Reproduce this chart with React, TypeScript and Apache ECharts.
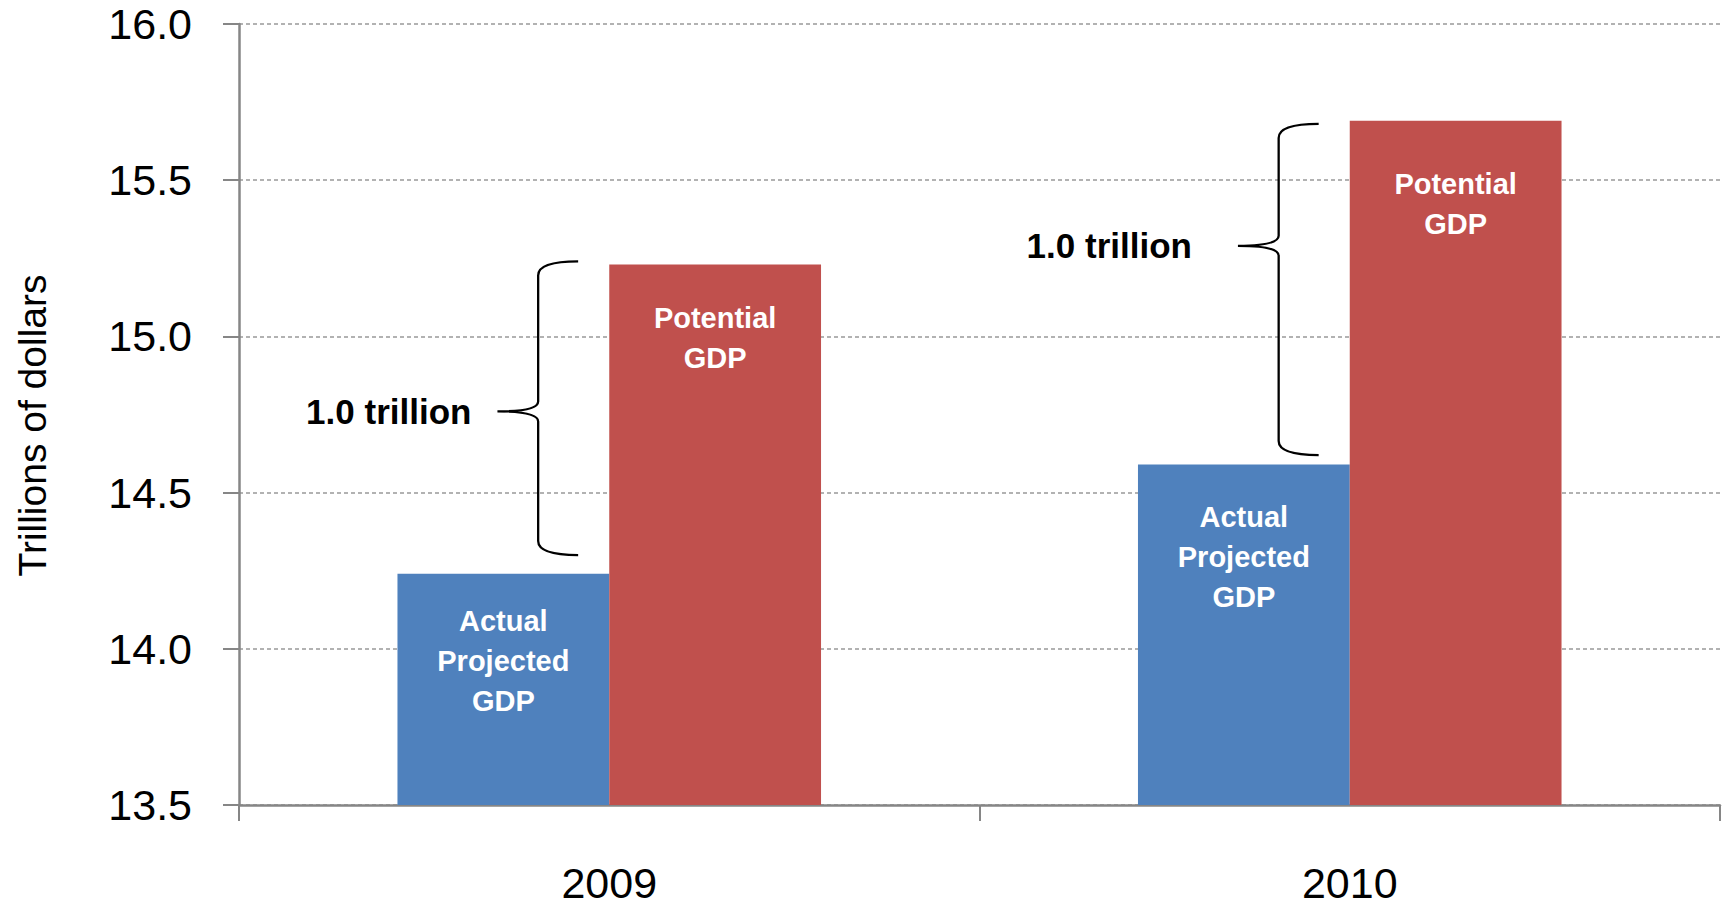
import React, { useEffect, useRef } from "react";
import * as echarts from "echarts";

const categories = ["2009", "2010"];
const actualGDP = [14.24, 14.59];
const potentialGDP = [15.23, 15.69];
const actualLabel = "Actual\nProjected\nGDP";
const potentialLabel = "Potential\nGDP";
const yTicksMin = 13.5;
const yTicksMax = 16.0;
const yTickStep = 0.5;
// brace annotation extents (data units)
const braceLow = [14.3, 14.62];
const braceHigh = [15.24, 15.68];
const braceTip = [14.76, 15.29];
const braceLabels = ["1.0 trillion", "1.0 trillion"];

// layout / style tweaks (pixels), kept apart from the data
const actualLabelDist = [27, 33];
const potentialLabelDist = [33, 43];
const braceLabelGap = [26, 46];

const FONT = "'Liberation Sans', Arial, sans-serif";

export default function App() {
  const ref = useRef<HTMLDivElement>(null);
  useEffect(() => {
    if (!ref.current) return;
    const chart = echarts.init(ref.current, undefined, { renderer: "svg" });
    const braceData = categories.map((_, i) => [i, braceLow[i], braceHigh[i], braceTip[i]]);
    const axisColor = "#868686";
    const labelBase = {
      show: true,
      position: "insideTop",
      color: "#ffffff",
      fontWeight: "bold",
      fontSize: 29,
      lineHeight: 40,
      fontFamily: FONT,
    };
    chart.setOption({
      animation: false,
      backgroundColor: "#ffffff",
      grid: { left: 239, right: 2, top: 24, bottom: 100, containLabel: false, outerBoundsMode: "none" },
      xAxis: {
        type: "category",
        data: categories,
        axisLine: { lineStyle: { color: axisColor, width: 2.5 } },
        axisTick: { show: true, length: 16, lineStyle: { color: axisColor, width: 2 } },
        axisLabel: { color: "#000", fontSize: 43, fontFamily: FONT, margin: 56 },
      },
      yAxis: {
        type: "value",
        min: yTicksMin,
        max: yTicksMax,
        interval: yTickStep,
        name: "Trillions of dollars",
        nameLocation: "middle",
        nameRotate: 90,
        nameGap: 187,
        nameTextStyle: { color: "#000", fontSize: 39, fontFamily: FONT, padding: [0, 22, 0, 0] },
        axisLine: { show: true, lineStyle: { color: axisColor, width: 2.5 } },
        axisTick: { show: true, length: 16, lineStyle: { color: axisColor, width: 2 } },
        axisLabel: {
          color: "#000",
          fontSize: 43,
          fontFamily: FONT,
          margin: 47,
          formatter: (v: number) => v.toFixed(1),
        },
        splitLine: { show: true, lineStyle: { color: "#999999", width: 1.5, type: [4, 3] } },
      },
      series: [
        {
          name: "Actual Projected GDP",
          type: "bar",
          data: actualGDP.map((v, i) => ({ value: v, label: { distance: actualLabelDist[i] } })),
          barWidth: "28.6%",
          barGap: "0%",
          itemStyle: { color: "#4F81BD" },
          label: { ...labelBase, distance: 29, formatter: actualLabel },
        },
        {
          name: "Potential GDP",
          type: "bar",
          data: potentialGDP.map((v, i) => ({ value: v, label: { distance: potentialLabelDist[i] } })),
          barWidth: "28.6%",
          barGap: "0%",
          itemStyle: { color: "#C0504D" },
          label: { ...labelBase, distance: 32, formatter: potentialLabel },
        },
        {
          type: "custom",
          data: braceData,
          encode: { x: 0, y: [1, 2, 3] },
          clip: false,
          z: 10,
          silent: true,
          renderItem: (params: any, api: any) => {
            const idx = api.value(0);
            const bw = api.size([1, 0])[0];
            const pLow = api.coord([idx, api.value(1)]);
            const pHigh = api.coord([idx, api.value(2)]);
            const pTip = api.coord([idx, api.value(3)]);
            const cx = pLow[0];
            const xe = cx - bw * 0.042;
            const xl = cx - bw * 0.096;
            const xt = cx - bw * 0.151;
            const yT = pHigh[1];
            const yB = pLow[1];
            const ym = pTip[1];
            const d =
              `M${xe},${yT} Q${xl},${yT} ${xl},${yT + 14} ` +
              `L${xl},${ym - 10} Q${xl},${ym} ${xt},${ym} Q${xl},${ym} ${xl},${ym + 10} ` +
              `L${xl},${yB - 14} Q${xl},${yB} ${xe},${yB}`;
            return {
              type: "group",
              children: [
                {
                  type: "path",
                  shape: { pathData: d },
                  style: { stroke: "#000000", lineWidth: 2.3, fill: "none" },
                },
                {
                  type: "text",
                  x: xt - braceLabelGap[params.dataIndex],
                  y: ym,
                  style: {
                    text: braceLabels[params.dataIndex],
                    fill: "#000000",
                    fontSize: 35,
                    fontWeight: "bold",
                    fontFamily: FONT,
                    align: "right",
                    verticalAlign: "middle",
                  },
                },
              ],
            };
          },
        },
      ],
    });
    return () => chart.dispose();
  }, []);
  return (
    <div
      ref={ref}
      style={{ position: "fixed", left: 0, top: 0, width: 1722, height: 905, background: "#fff" }}
    />
  );
}
